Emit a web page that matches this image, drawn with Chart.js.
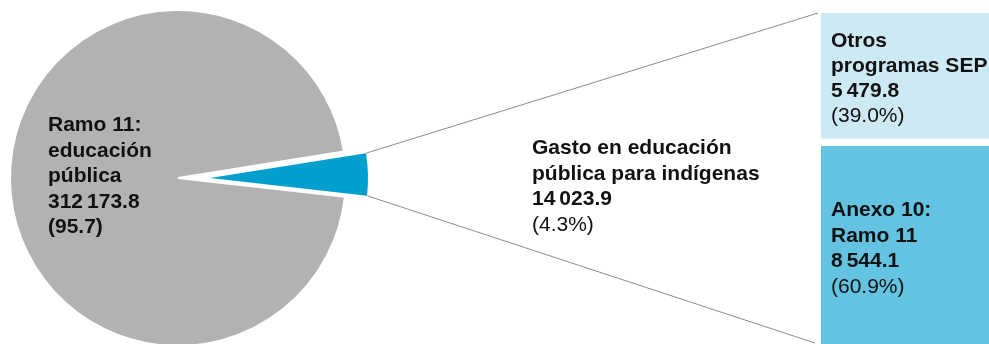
<!DOCTYPE html>
<html lang="es">
<head>
<meta charset="utf-8">
<title>Gasto en educación pública para indígenas</title>
<script src="https://cdn.jsdelivr.net/npm/chart.js@4.4.1/dist/chart.umd.min.js"></script>
<style>
  html, body { margin: 0; padding: 0; background: #fff; }
  body {
    position: relative; width: 989px; height: 344px; overflow: hidden;
    font-family: 'Liberation Sans', Arial, sans-serif; color: #111;
  }
  canvas { position: absolute; }
  .lbl { position: absolute; font-size: 21px; line-height: 25.5px; white-space: nowrap; }
  .lbl .b { font-weight: 700; }
  .lbl .grp { margin-left: 4px; }
</style>
</head>
<body>
<canvas id="pie-base"  width="356" height="356" style="left:0;top:0"></canvas>
<canvas id="pie-slice" width="356" height="356" style="left:32px;top:0"></canvas>
<canvas id="bar-split" width="168" height="344" style="left:821px;top:0"></canvas>
<canvas id="links"     width="989" height="344" style="left:0;top:0"></canvas>

<div id="lbl-ramo"  class="lbl" style="left:48px;top:111px"></div>
<div id="lbl-indig" class="lbl" style="left:532px;top:134px"></div>
<div id="lbl-otros" class="lbl" style="left:831px;top:27px;line-height:25px"></div>
<div id="lbl-anexo" class="lbl" style="left:831px;top:196px"></div>

<script>
'use strict';

// ── Data ──────────────────────────────────────────────────────
// Gasto total: Ramo 11 vs. educación indígena (millones de pesos)
const pieLabels = [['Ramo 11:', 'educación', 'pública'], ['Gasto en educación', 'pública para indígenas']];
const pieValues = [312173.8, 14023.9];
const piePct    = ['(95.7)', '(4.3%)'];

// Desglose del gasto para indígenas (abajo → arriba en la barra)
const splitLabels = [['Anexo 10:', 'Ramo 11'], ['Otros', 'programas SEP']];
const splitValues = [8544.1, 5479.8];
const splitPct    = ['(60.9%)', '(39.0%)'];

// ── Style ─────────────────────────────────────────────────────
const GREY      = '#b2b2b2';
const BLUE      = '#009fcd';
const BAR_DARK  = '#63c3e1';
const BAR_LIGHT = '#cde9f4';
const LINK      = '#8c8c8c';
const CLEAR     = 'rgba(0,0,0,0)';

const SLICE_TILT  = -1.3;   // axis of the small slice, degrees (negative = up)
const SLICE_SHIFT = 32;     // px the slice canvas sits to the right
const BAR_LEFT    = 821;

const total = pieValues.reduce((a, b) => a + b, 0);
// start angle so that the second slice is centred on SLICE_TILT
const rotation = 90 + SLICE_TILT - (pieValues[0] + pieValues[1] / 2) / total * 360;

const baseOpts = {
  responsive: false,
  animation: false,
  events: [],
  plugins: { legend: { display: false }, tooltip: { enabled: false } },
};

// thousands split with a narrow gap: 312 173.8
function fmt(n) {
  const [int, dec] = n.toFixed(1).split('.');
  const groups = int.replace(/\B(?=(\d{3})+(?!\d))/g, ' ').split(' ');
  return groups[0] + groups.slice(1).map(g => `<span class="grp">${g}</span>`).join('') + '.' + dec;
}

// ── Charts ────────────────────────────────────────────────────
const pieBase = new Chart(document.getElementById('pie-base'), {
  type: 'pie',
  data: {
    labels: pieLabels.map(l => l.join(' ')),
    datasets: [{
      data: pieValues,
      backgroundColor: [GREY, CLEAR],
      borderColor: '#fff',
      borderWidth: [2, 0],
      radius: 168,
      rotation,
    }],
  },
  options: baseOpts,
});

const pieSlice = new Chart(document.getElementById('pie-slice'), {
  type: 'pie',
  data: {
    labels: pieLabels.map(l => l.join(' ')),
    datasets: [{
      data: pieValues,
      backgroundColor: [CLEAR, BLUE],
      borderWidth: 0,
      radius: 158,
      rotation,
    }],
  },
  options: baseOpts,
});

const barSplit = new Chart(document.getElementById('bar-split'), {
  type: 'bar',
  data: {
    labels: [''],
    datasets: [
      {
        label: splitLabels[0].join(' '),
        data: [splitValues[0]],
        backgroundColor: BAR_DARK,
        borderColor: '#fff',
        borderWidth: { top: 4, bottom: 0, left: 0, right: 0 },
        borderSkipped: false,
      },
      {
        label: splitLabels[1].join(' '),
        data: [splitValues[1]],
        backgroundColor: BAR_LIGHT,
        borderColor: '#fff',
        borderWidth: { top: 0, bottom: 4, left: 0, right: 0 },
        borderSkipped: false,
      },
    ],
  },
  options: {
    ...baseOpts,
    layout: { padding: { top: 13, left: 0, right: 0, bottom: 0 } },
    datasets: { bar: { barPercentage: 1, categoryPercentage: 1 } },
    scales: {
      x: { display: false, stacked: true },
      y: { display: false, stacked: true, min: 0, max: splitValues.reduce((a, b) => a + b, 0) },
    },
  },
});

// ── Connector lines: slice corners → bar corners ──────────────
function drawLinks() {
  const ctx = document.getElementById('links').getContext('2d');
  const arc = pieSlice.getDatasetMeta(0).data[1];
  const { x, y, startAngle, endAngle, outerRadius } = arc.getProps(['x', 'y', 'startAngle', 'endAngle', 'outerRadius']);
  const cx = x + SLICE_SHIFT;
  const top = barSplit.getDatasetMeta(1).data[0];
  const bottom = barSplit.getDatasetMeta(0).data[0];
  const barX = BAR_LEFT + top.x - top.width / 2;

  ctx.strokeStyle = LINK;
  ctx.lineWidth = 1;
  ctx.beginPath();
  ctx.moveTo(cx + outerRadius * Math.cos(startAngle), y + outerRadius * Math.sin(startAngle));
  ctx.lineTo(barX - 3, top.y);
  ctx.moveTo(cx + outerRadius * Math.cos(endAngle), y + outerRadius * Math.sin(endAngle));
  ctx.lineTo(barX - 6, bottom.base - 1);
  ctx.stroke();
}

// ── Labels ────────────────────────────────────────────────────
function fillLabel(id, lines, value, pct, pctBold) {
  const el = document.getElementById(id);
  el.innerHTML =
    lines.map(t => `<div class="b">${t}</div>`).join('') +
    `<div class="b">${fmt(value)}</div>` +
    `<div class="${pctBold ? 'b' : ''}">${pct}</div>`;
}

drawLinks();
fillLabel('lbl-ramo',  pieLabels[0],   pieValues[0],   piePct[0],   true);
fillLabel('lbl-indig', pieLabels[1],   pieValues[1],   piePct[1],   false);
fillLabel('lbl-otros', splitLabels[1], splitValues[1], splitPct[1], false);
fillLabel('lbl-anexo', splitLabels[0], splitValues[0], splitPct[0], false);
</script>
</body>
</html>
